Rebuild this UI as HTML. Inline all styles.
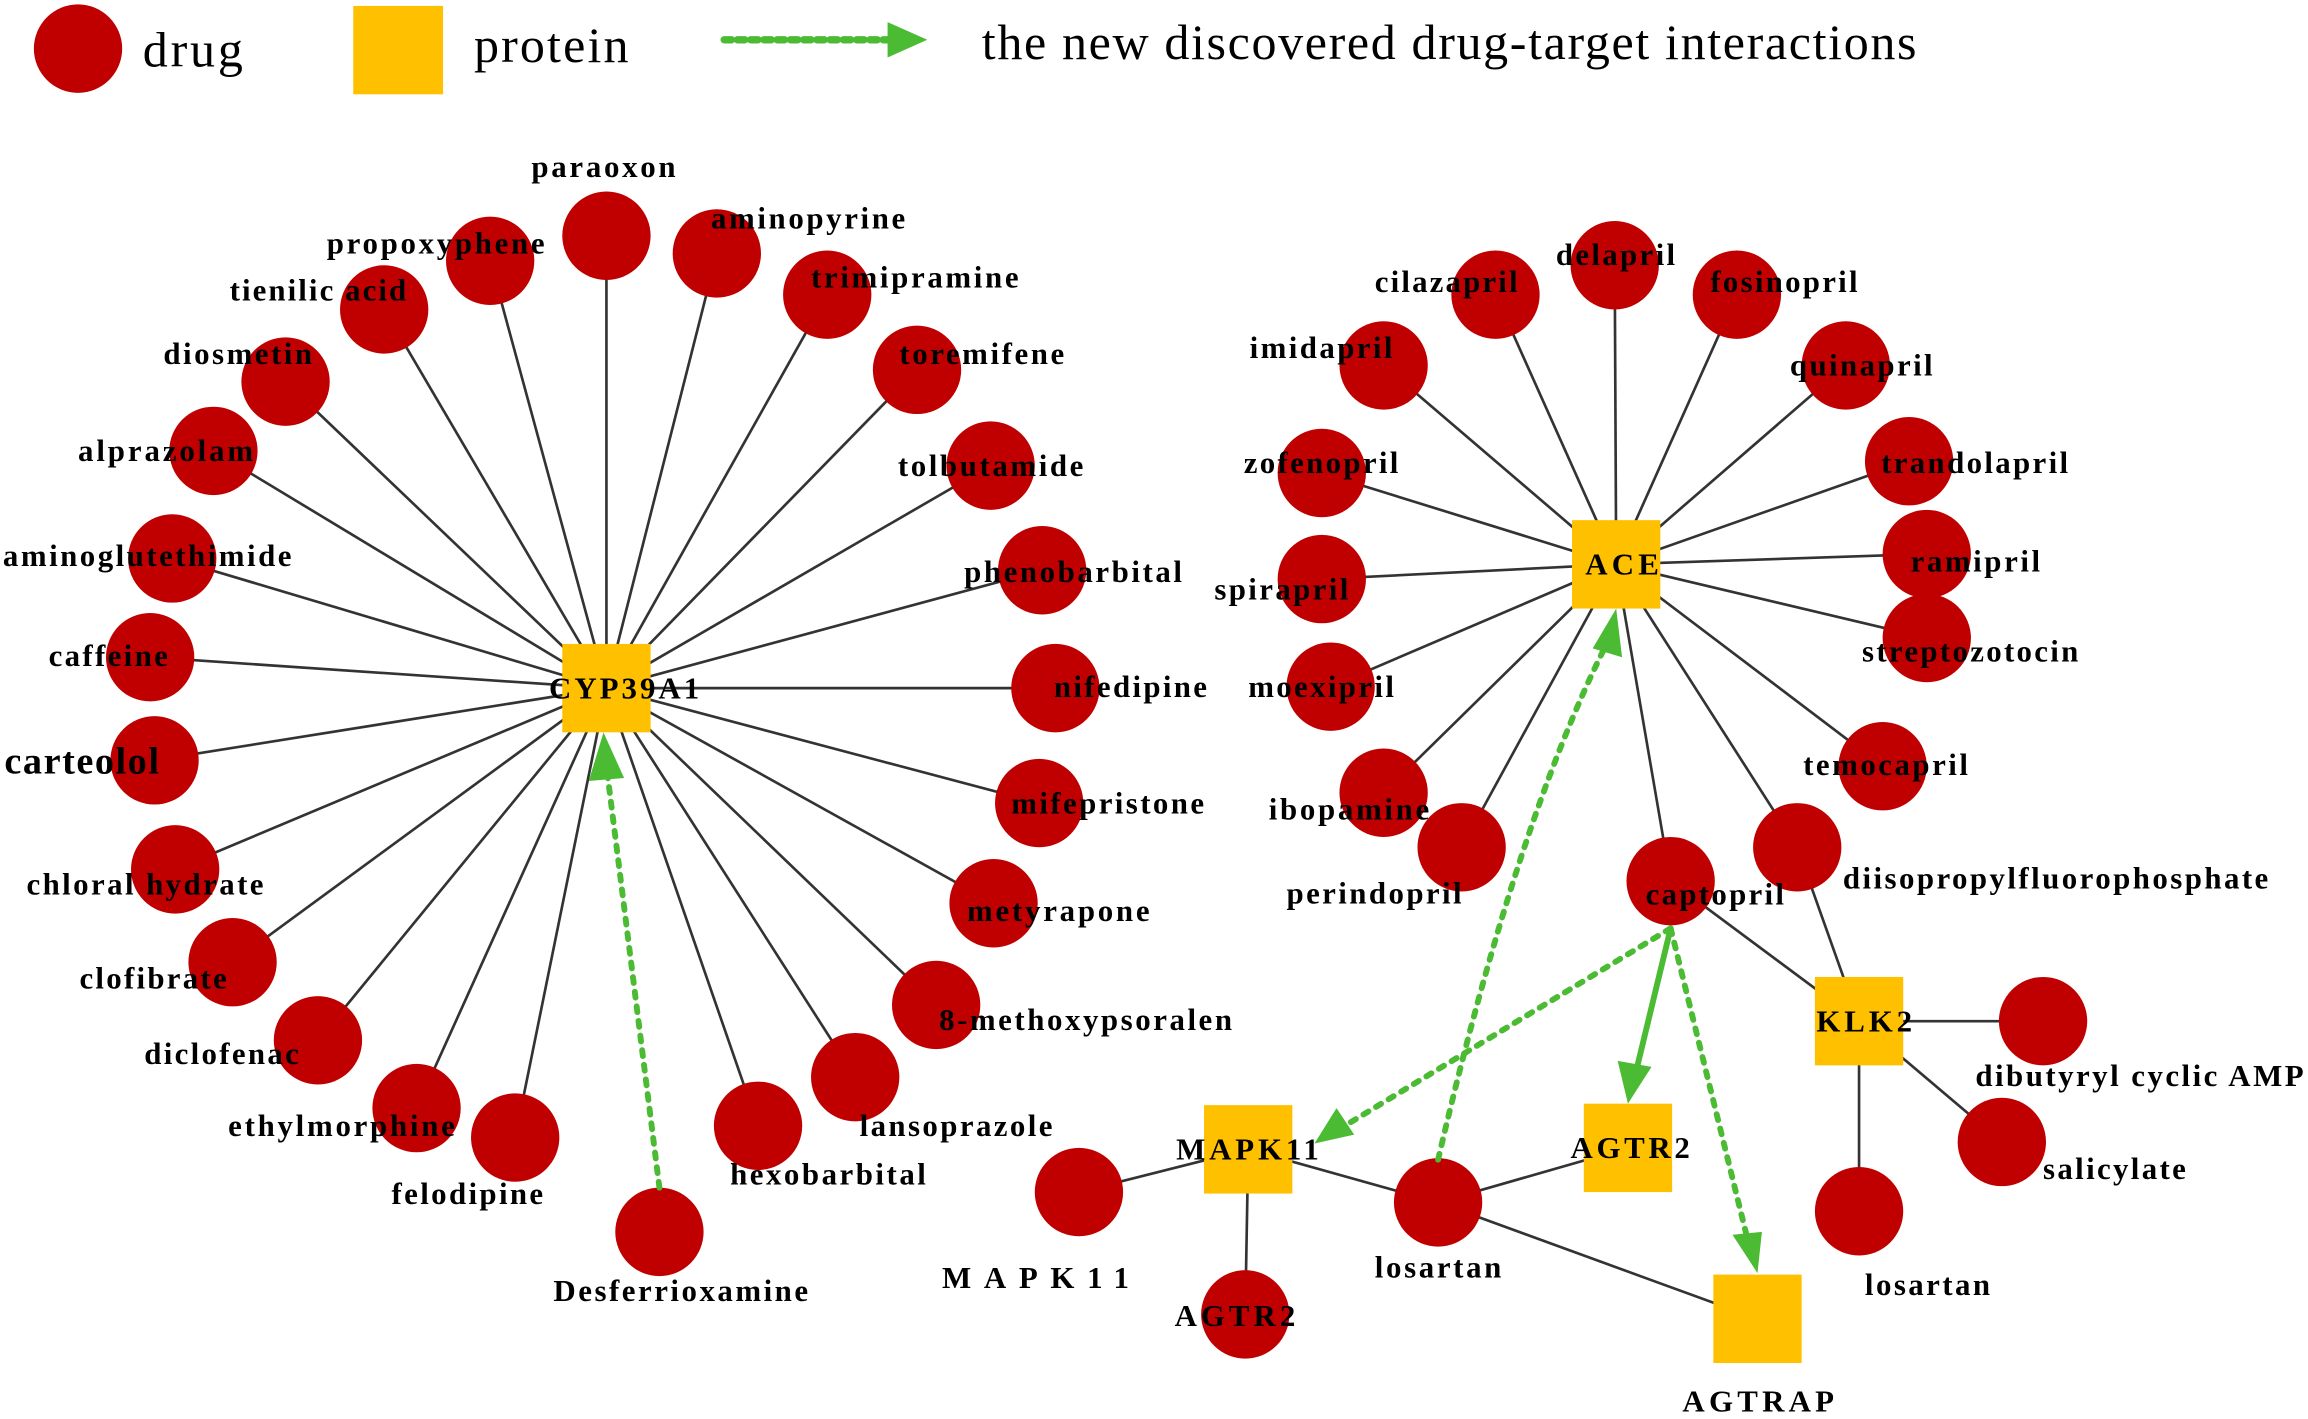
<!DOCTYPE html>
<html><head><meta charset="utf-8"><style>html,body{margin:0;padding:0;background:#fff}svg{display:block}</style></head>
<body>
<svg xmlns="http://www.w3.org/2000/svg" width="2308" height="1419" viewBox="0 0 1568 963" preserveAspectRatio="none">
<defs>
<marker id="ah" markerWidth="10" markerHeight="10" refX="9" refY="5" orient="auto" markerUnits="userSpaceOnUse" viewBox="0 0 10 10"><path d="M0,0 L10,5 L0,10 z" fill="#4cbb34"/></marker>
<marker id="ah2" markerWidth="22" markerHeight="26" refX="22" refY="9" orient="auto" markerUnits="userSpaceOnUse" viewBox="0 0 22 18"><path d="M0,0 L22,9 L0,18 z" fill="#4cbb34"/></marker>
</defs>
<!-- legend -->
<ellipse cx="53" cy="33" rx="30" ry="30" fill="#c00000"/>
<text x="97" y="45" font-family="Liberation Serif, serif" font-size="34" textLength="68">drug</text>
<rect x="240" y="4" width="61" height="60" fill="#ffc000"/>
<text x="322" y="42" font-family="Liberation Serif, serif" font-size="34" textLength="105">protein</text>
<line x1="492" y1="27" x2="605" y2="27" stroke="#4cbb34" stroke-width="5" stroke-dasharray="5,4" stroke-linecap="round"/>
<path d="M603,15 L630,27 L603,39 z" fill="#4cbb34"/>
<text x="667" y="40" font-family="Liberation Serif, serif" font-size="34" textLength="635">the new discovered drug-target interactions</text>

<g stroke="#333" stroke-width="1.8">
<!-- CYP39A1 edges -->
<line x1="412" y1="467" x2="412" y2="160"/><line x1="412" y1="467" x2="487" y2="172"/><line x1="412" y1="467" x2="333" y2="177"/>
<line x1="412" y1="467" x2="562" y2="200"/><line x1="412" y1="467" x2="261" y2="210"/><line x1="412" y1="467" x2="623" y2="251"/>
<line x1="412" y1="467" x2="194" y2="259"/><line x1="412" y1="467" x2="673" y2="316"/><line x1="412" y1="467" x2="145" y2="306"/>
<line x1="412" y1="467" x2="708" y2="387"/><line x1="412" y1="467" x2="117" y2="379"/><line x1="412" y1="467" x2="717" y2="467"/>
<line x1="412" y1="467" x2="102" y2="446"/><line x1="412" y1="467" x2="105" y2="516"/><line x1="412" y1="467" x2="706" y2="545"/>
<line x1="412" y1="467" x2="119" y2="590"/><line x1="412" y1="467" x2="675" y2="613"/><line x1="412" y1="467" x2="158" y2="653"/>
<line x1="412" y1="467" x2="636" y2="682"/><line x1="412" y1="467" x2="216" y2="706"/><line x1="412" y1="467" x2="581" y2="731"/>
<line x1="412" y1="467" x2="283" y2="752"/><line x1="412" y1="467" x2="515" y2="764"/><line x1="412" y1="467" x2="350" y2="772"/>
<!-- ACE edges -->
<line x1="1098" y1="383" x2="1097" y2="180"/><line x1="1098" y1="383" x2="1016" y2="200"/><line x1="1098" y1="383" x2="1180" y2="200"/>
<line x1="1098" y1="383" x2="940" y2="248"/><line x1="1098" y1="383" x2="1254" y2="248"/><line x1="1098" y1="383" x2="898" y2="321"/>
<line x1="1098" y1="383" x2="1297" y2="313"/><line x1="1098" y1="383" x2="898" y2="393"/><line x1="1098" y1="383" x2="1309" y2="376"/>
<line x1="1098" y1="383" x2="1309" y2="433"/><line x1="1098" y1="383" x2="904" y2="466"/><line x1="1098" y1="383" x2="1279" y2="520"/>
<line x1="1098" y1="383" x2="940" y2="538"/><line x1="1098" y1="383" x2="993" y2="575"/><line x1="1098" y1="383" x2="1135" y2="598"/>
<line x1="1098" y1="383" x2="1221" y2="575"/>
<!-- KLK2 -->
<line x1="1263" y1="693" x2="1135" y2="598"/><line x1="1263" y1="693" x2="1221" y2="575"/><line x1="1263" y1="693" x2="1388" y2="693"/>
<line x1="1263" y1="693" x2="1360" y2="775"/><line x1="1263" y1="693" x2="1263" y2="822"/>
<!-- MAPK11 etc -->
<line x1="848" y1="780" x2="733" y2="809"/><line x1="848" y1="780" x2="846" y2="892"/><line x1="848" y1="780" x2="977" y2="816"/>
<line x1="977" y1="816" x2="1106" y2="779"/><line x1="977" y1="816" x2="1194" y2="895"/>
</g>

<g fill="#c00000">
<circle cx="412" cy="160" r="30"/><circle cx="487" cy="172" r="30"/><circle cx="333" cy="177" r="30"/>
<circle cx="562" cy="200" r="30"/><circle cx="261" cy="210" r="30"/><circle cx="623" cy="251" r="30"/>
<circle cx="194" cy="259" r="30"/><circle cx="673" cy="316" r="30"/><circle cx="145" cy="306" r="30"/>
<circle cx="708" cy="387" r="30"/><circle cx="117" cy="379" r="30"/><circle cx="717" cy="467" r="30"/>
<circle cx="102" cy="446" r="30"/><circle cx="105" cy="516" r="30"/><circle cx="706" cy="545" r="30"/>
<circle cx="119" cy="590" r="30"/><circle cx="675" cy="613" r="30"/><circle cx="158" cy="653" r="30"/>
<circle cx="636" cy="682" r="30"/><circle cx="216" cy="706" r="30"/><circle cx="581" cy="731" r="30"/>
<circle cx="283" cy="752" r="30"/><circle cx="515" cy="764" r="30"/><circle cx="350" cy="772" r="30"/>
<circle cx="448" cy="836" r="30"/>
<circle cx="1097" cy="180" r="30"/><circle cx="1016" cy="200" r="30"/><circle cx="1180" cy="200" r="30"/>
<circle cx="940" cy="248" r="30"/><circle cx="1254" cy="248" r="30"/><circle cx="898" cy="321" r="30"/>
<circle cx="1297" cy="313" r="30"/><circle cx="898" cy="393" r="30"/><circle cx="1309" cy="376" r="30"/>
<circle cx="1309" cy="433" r="30"/><circle cx="904" cy="466" r="30"/><circle cx="1279" cy="520" r="30"/>
<circle cx="940" cy="538" r="30"/><circle cx="993" cy="575" r="30"/><circle cx="1135" cy="598" r="30"/>
<circle cx="1221" cy="575" r="30"/>
<circle cx="1388" cy="693" r="30"/><circle cx="1360" cy="775" r="30"/><circle cx="1263" cy="822" r="30"/>
<circle cx="733" cy="809" r="30"/><circle cx="846" cy="892" r="30"/><circle cx="977" cy="816" r="30"/>
</g>
<g fill="#ffc000">
<rect x="382" y="437" width="60" height="60"/>
<rect x="1068" y="353" width="60" height="60"/>
<rect x="1233" y="663" width="60" height="60"/>
<rect x="818" y="750" width="60" height="60"/>
<rect x="1076" y="749" width="60" height="60"/>
<rect x="1164" y="865" width="60" height="60"/>
</g>

<!-- green interactions -->
<g stroke="#4cbb34" stroke-width="4" fill="none" stroke-linecap="round">
<line x1="448" y1="806" x2="413" y2="528" stroke-dasharray="4,6"/>
<path d="M977,787 Q1030,560 1090,440" stroke-dasharray="4,6"/>
<line x1="1135" y1="630" x2="912" y2="765" stroke-dasharray="4,6"/>
<line x1="1135" y1="630" x2="1187" y2="840" stroke-dasharray="4,6"/>
<line x1="1135" y1="630" x2="1112" y2="725"/>
</g>
<g fill="#4cbb34">
<path d="M410,497 L400,530 L424,528 z"/>
<path d="M1098,413 L1082,440 L1102,446 z"/>
<path d="M893,776 L908,752 L920,770 z"/>
<path d="M1194,864 L1177,838 L1197,836 z"/>
<path d="M1106,749 L1099,720 L1122,724 z"/>
</g>

<g font-family="Liberation Serif, serif" font-weight="bold" font-size="21" fill="#000">
<text x="361" y="120" textLength="98">paraoxon</text>
<text x="483" y="155" textLength="132">aminopyrine</text>
<text x="222" y="172" textLength="148">propoxyphene</text>
<text x="551" y="195" textLength="141">trimipramine</text>
<text x="156" y="204" textLength="120">tienilic acid</text>
<text x="611" y="247" textLength="112">toremifene</text>
<text x="111" y="247" textLength="101">diosmetin</text>
<text x="610" y="323" textLength="126">tolbutamide</text>
<text x="53" y="313" textLength="119">alprazolam</text>
<text x="655" y="395" textLength="148">phenobarbital</text>
<text x="2" y="384" textLength="196">aminoglutethimide</text>
<text x="716" y="473" textLength="104">nifedipine</text>
<text x="33" y="452" textLength="81">caffeine</text>
<text x="3" y="525" font-size="26" textLength="105">carteolol</text>
<text x="687" y="552" textLength="131">mifepristone</text>
<text x="18" y="607" textLength="161">chloral hydrate</text>
<text x="657" y="625" textLength="124">metyrapone</text>
<text x="54" y="671" textLength="100">clofibrate</text>
<text x="638" y="699" textLength="199">8-methoxypsoralen</text>
<text x="98" y="722" textLength="105">diclofenac</text>
<text x="584" y="771" textLength="131">lansoprazole</text>
<text x="155" y="771" textLength="154">ethylmorphine</text>
<text x="496" y="804" textLength="133">hexobarbital</text>
<text x="266" y="817" textLength="103">felodipine</text>
<text x="376" y="883" textLength="173">Desferrioxamine</text>
<text x="1057" y="180" textLength="81">delapril</text>
<text x="934" y="198" textLength="97">cilazapril</text>
<text x="1162" y="198" textLength="100">fosinopril</text>
<text x="849" y="243" textLength="97">imidapril</text>
<text x="1216" y="255" textLength="97">quinapril</text>
<text x="845" y="321" textLength="105">zofenopril</text>
<text x="1278" y="321" textLength="127">trandolapril</text>
<text x="825" y="407" textLength="91">spirapril</text>
<text x="1298" y="388" textLength="88">ramipril</text>
<text x="1265" y="449" textLength="147">streptozotocin</text>
<text x="848" y="473" textLength="99">moexipril</text>
<text x="1225" y="526" textLength="112">temocapril</text>
<text x="862" y="556" textLength="109">ibopamine</text>
<text x="874" y="613" textLength="119">perindopril</text>
<text x="1118" y="614" textLength="94">captopril</text>
<text x="1252" y="603" textLength="289">diisopropylfluorophosphate</text>
<text x="1342" y="737" textLength="223">dibutyryl cyclic AMP</text>
<text x="1388" y="800" textLength="97">salicylate</text>
<text x="1267" y="879" textLength="85">losartan</text>
<text x="640" y="874" textLength="127">MAPK11</text>
<text x="798" y="900" textLength="82">AGTR2</text>
<text x="934" y="867" textLength="86">losartan</text>
<text x="1143" y="958" textLength="103">AGTRAP</text>
<text x="373" y="474" textLength="102">CYP39A1</text>
<text x="1077" y="390" textLength="50">ACE</text>
<text x="1234" y="700" textLength="65">KLK2</text>
<text x="799" y="787" textLength="97">MAPK11</text>
<text x="1067" y="786" textLength="81">AGTR2</text>
</g>
</svg>
</body></html>
